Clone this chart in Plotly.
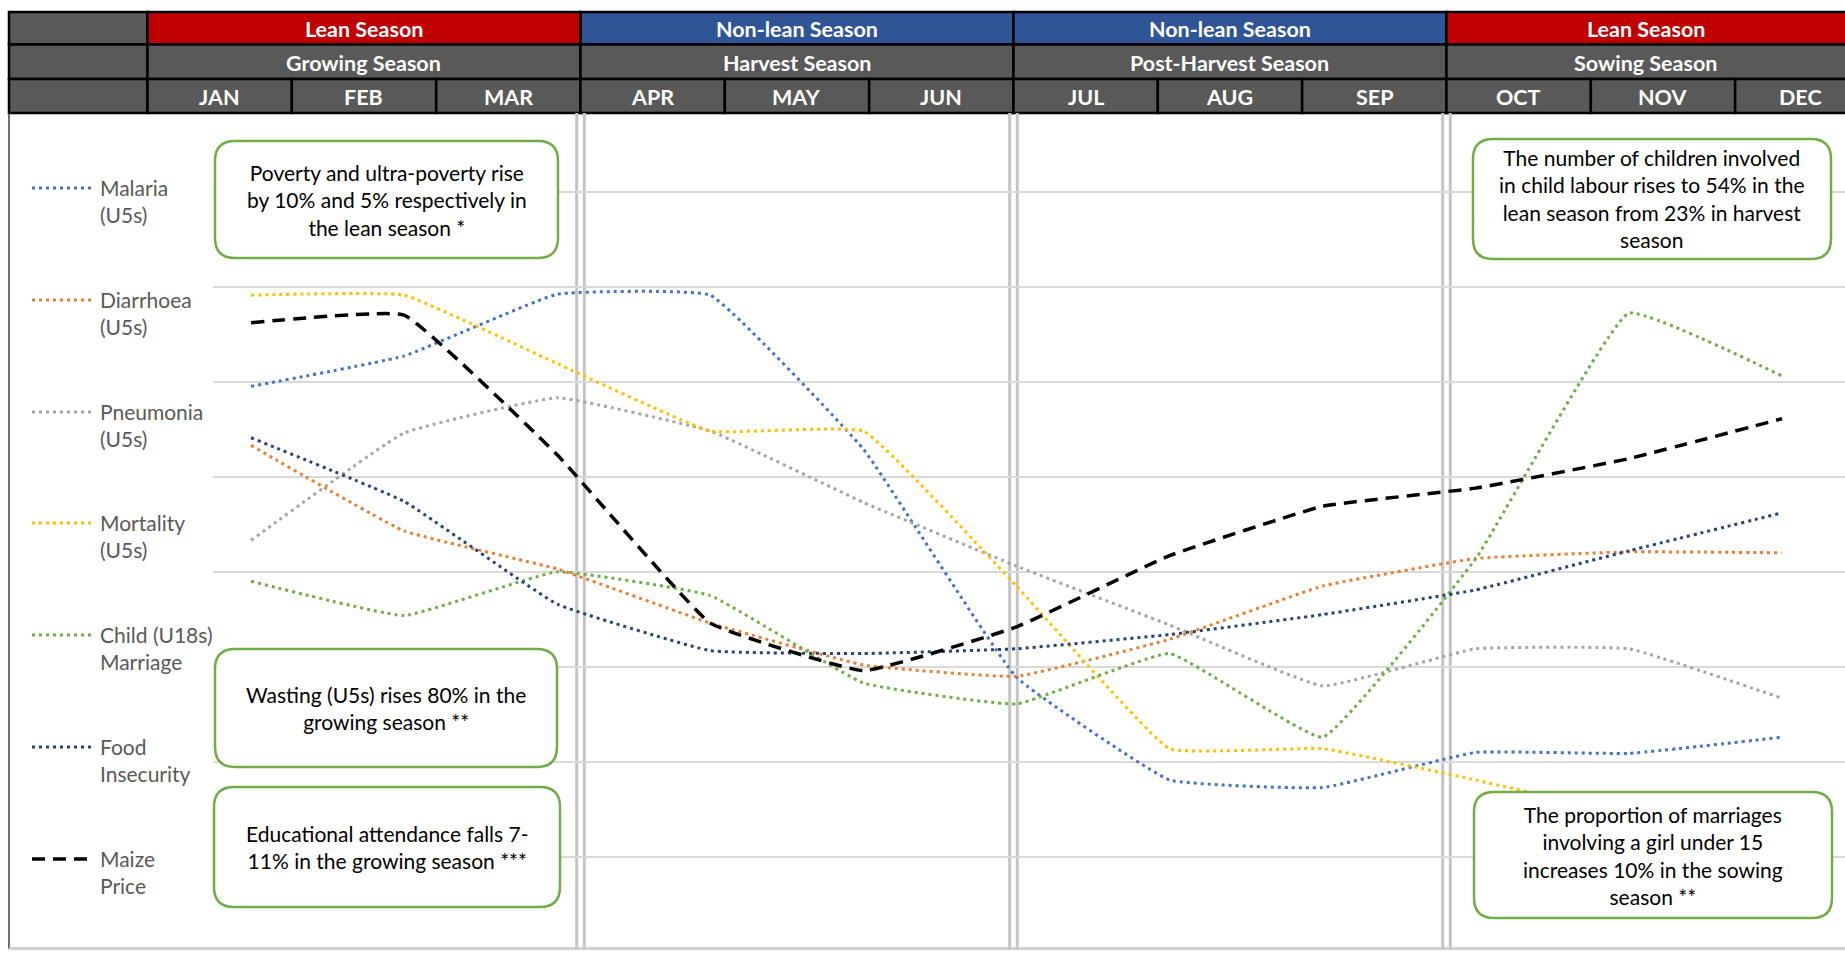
import plotly.graph_objects as go

W, H = 1845, 953

# ---------------- data ----------------
x_points = [0, 1, 2, 3, 4, 5, 6, 7, 8, 9, 10]

malaria = [5.95, 6.27, 6.92, 6.91, 5.29, 2.89, 1.81, 1.73, 2.10, 2.09, 2.26]
diarrhoea = [5.33, 4.43, 4.03, 3.46, 3.02, 2.90, 3.29, 3.85, 4.14, 4.21, 4.20]
pneumonia = [4.33, 5.46, 5.83, 5.48, 4.73, 4.06, 3.44, 2.80, 3.19, 3.19, 2.67]
mortality = [6.91, 6.91, 6.19, 5.48, 5.48, 3.85, 2.14, 2.14, 1.81, 1.45, 1.30]
child_marriage = [3.90, 3.54, 4.00, 3.75, 2.83, 2.61, 3.14, 2.26, 4.14, 6.72, 6.06]
food_insecurity = [5.41, 4.74, 3.66, 3.17, 3.14, 3.19, 3.34, 3.55, 3.81, 4.22, 4.62]
maize_price = [6.62, 6.70, 5.23, 3.46, 2.96, 3.42, 4.17, 4.69, 4.88, 5.19, 5.61]

series_labels = ["Malaria<br>(U5s)", "Diarrhoea<br>(U5s)", "Pneumonia<br>(U5s)",
                 "Mortality<br>(U5s)", "Child (U18s)<br>Marriage", "Food<br>Insecurity",
                 "Maize<br>Price"]
series_values = [malaria, diarrhoea, pneumonia, mortality, child_marriage,
                 food_insecurity, maize_price]
series_colors = ["#4472C4", "#ED7D31", "#A5A5A5", "#FFC000", "#70AD47", "#264478", "#000000"]

season_labels = ["Lean Season", "Non-lean Season", "Non-lean Season", "Lean Season"]
season_colors = ["#C00000", "#2F5597", "#2F5597", "#C00000"]
period_labels = ["Growing Season", "Harvest Season", "Post-Harvest Season", "Sowing Season"]
month_labels = ["JAN", "FEB", "MAR", "APR", "MAY", "JUN", "JUL", "AUG", "SEP", "OCT", "NOV", "DEC"]

box_texts = [
    "Poverty and ultra-poverty rise<br>by 10% and 5% respectively in<br>the lean season *",
    "Wasting (U5s) rises 80% in the<br>growing season **",
    "Educational attendance falls 7-<br>11% in the growing season ***",
    "The number of children involved<br>in child labour rises to 54% in the<br>lean season from 23% in harvest<br>season",
    "The proportion of marriages<br>involving a girl under 15<br>increases 10% in the sowing<br>season **",
]

# ---------------- helpers ----------------
def X(px):
    return px / W


def Y(py):
    return 1 - py / H


FONT = "Lato"
shapes = []
annotations = []

# ---------------- header table ----------------
rows = [(12, 44.5), (44.5, 79), (79, 113)]
left0, col0 = 9, 147.5
mw = 144.33
bounds = [col0 + 3 * mw * k for k in range(5)]
GRAY = "#595959"


def cell(x0, x1, y0, y1, fill):
    shapes.append(dict(type="rect", xref="paper", yref="paper",
                       x0=X(x0), x1=X(min(x1, W + 5)), y0=Y(y0), y1=Y(y1),
                       fillcolor=fill, line=dict(color="black", width=2.5), layer="below"))


def htext(xc, yc, txt, size=21.5):
    annotations.append(dict(xref="paper", yref="paper", x=X(xc), y=Y(yc), text="<b>" + txt + "</b>",
                            showarrow=False, xanchor="center", yanchor="middle",
                            font=dict(family=FONT, size=size, color="white")))


for (y0, y1) in rows:
    cell(left0, col0, y0, y1, GRAY)

for k in range(4):
    x0, x1 = bounds[k], bounds[k + 1]
    cell(x0, x1, rows[0][0], rows[0][1], season_colors[k])
    cell(x0, x1, rows[1][0], rows[1][1], GRAY)
    xc = (x0 + min(x1, W)) / 2
    htext(xc, (rows[0][0] + rows[0][1]) / 2 + 1, season_labels[k])
    htext(xc, (rows[1][0] + rows[1][1]) / 2 + 1, period_labels[k])

for m in range(12):
    x0 = col0 + m * mw
    x1 = x0 + mw
    cell(x0, x1, rows[2][0], rows[2][1], GRAY)
    xc = (x0 + x1) / 2 if m < 11 else 1800
    htext(xc, (rows[2][0] + rows[2][1]) / 2 + 1, month_labels[m])

# ---------------- chart frame ----------------
shapes.append(dict(type="line", xref="paper", yref="paper", x0=X(9), x1=X(9), y0=Y(113), y1=Y(949),
                   line=dict(color="#404040", width=1.5), layer="below"))
shapes.append(dict(type="line", xref="paper", yref="paper", x0=X(9), x1=X(W), y0=Y(948.5), y1=Y(948.5),
                   line=dict(color="#D0D0D0", width=3), layer="below"))
for b in bounds[1:4]:
    for dx in (-3.8, 3.8):
        shapes.append(dict(type="line", xref="paper", yref="paper", x0=X(b + dx), x1=X(b + dx),
                           y0=Y(113), y1=Y(949), line=dict(color="#C4C4C4", width=3), layer="below"))

# ---------------- legend ----------------
leg_y = [188, 300, 412, 523, 635, 747, 859]
for i, lab in enumerate(series_labels):
    dash = "13px,8px" if i == 6 else "3px,4px"
    wdt = 3.5 if i == 6 else 3
    shapes.append(dict(type="line", xref="paper", yref="paper", x0=X(32), x1=X(93),
                       y0=Y(leg_y[i]), y1=Y(leg_y[i]),
                       line=dict(color=series_colors[i], width=wdt, dash=dash)))
    annotations.append(dict(xref="paper", yref="paper", x=X(98), y=Y(leg_y[i] - 15), text=lab,
                            showarrow=False, xanchor="left", yanchor="top", align="left",
                            font=dict(family=FONT, size=21, color="#595959")))

# ---------------- text boxes ----------------
def rrect(x0, y0, x1, y1, r=20):
    return (f"M {X(x0 + r)},{Y(y0)} L {X(x1 - r)},{Y(y0)} Q {X(x1)},{Y(y0)} {X(x1)},{Y(y0 + r)} "
            f"L {X(x1)},{Y(y1 - r)} Q {X(x1)},{Y(y1)} {X(x1 - r)},{Y(y1)} "
            f"L {X(x0 + r)},{Y(y1)} Q {X(x0)},{Y(y1)} {X(x0)},{Y(y1 - r)} "
            f"L {X(x0)},{Y(y0 + r)} Q {X(x0)},{Y(y0)} {X(x0 + r)},{Y(y0)} Z")


boxes = [(215, 141, 558, 258), (215, 649, 557, 767), (214, 787, 560, 907),
         (1473, 139, 1831, 259), (1474, 792, 1832, 918)]
for (x0, y0, x1, y1), txt in zip(boxes, box_texts):
    shapes.append(dict(type="path", xref="paper", yref="paper", path=rrect(x0, y0, x1, y1),
                       fillcolor="white", line=dict(color="#70AD47", width=2.5), layer="above"))
    annotations.append(dict(xref="paper", yref="paper", x=X((x0 + x1) / 2), y=Y((y0 + y1) / 2),
                            text=txt, showarrow=False, xanchor="center", yanchor="middle",
                            align="center", font=dict(family=FONT, size=21, color="black")))

# ---------------- traces ----------------
fig = go.Figure()
for i, vals in enumerate(series_values):
    dash = "13px,8px" if i == 6 else "3px,4px"
    wdt = 3.5 if i == 6 else 3
    fig.add_trace(go.Scatter(x=x_points, y=vals, mode="lines", showlegend=False,
                             hoverinfo="skip",
                             line=dict(color=series_colors[i], width=wdt, dash=dash,
                                       shape="spline", smoothing=0.3)))

px_unit_x = 153.1
x_r0 = -(251 - 213) / px_unit_x
x_r1 = x_r0 + (W - 213) / px_unit_x
px_unit_y = 95.07
y_top = 8 + (191.5 - 113) / px_unit_y
y_bot = 1 - (947 - 857) / px_unit_y

fig.update_layout(
    width=W, height=H, autosize=False,
    margin=dict(l=0, r=0, t=0, b=0, pad=0),
    paper_bgcolor="white", plot_bgcolor="rgba(0,0,0,0)",
    xaxis=dict(domain=[213 / W, 1], range=[x_r0, x_r1], showgrid=False, zeroline=False,
               showticklabels=False, showline=False, ticks="", fixedrange=True),
    yaxis=dict(domain=[1 - 947 / H, 1 - 113 / H], range=[y_bot, y_top], showgrid=True,
               gridcolor="#D9D9D9", gridwidth=2, dtick=1, tick0=0, zeroline=False,
               showticklabels=False, showline=False, ticks="", fixedrange=True),
    shapes=shapes, annotations=annotations,
)

fig.write_html("out.html")
